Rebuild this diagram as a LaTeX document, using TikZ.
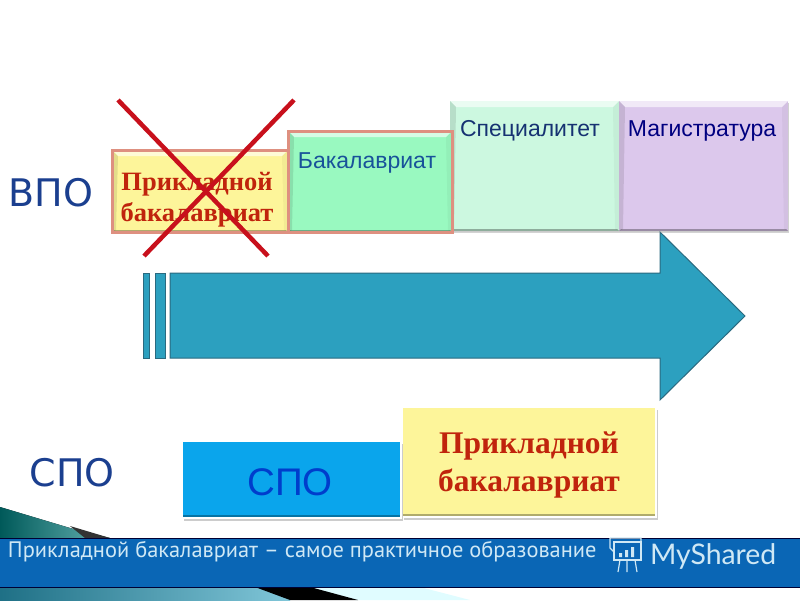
\documentclass[tikz,border=0pt]{standalone}
\usepackage{fontspec}
\setmainfont{Liberation Sans}
\newfontfamily\serifbold[BoldFont=Liberation Serif Bold]{Liberation Serif}
\newfontfamily\headfont{DejaVu Sans}
\newfontfamily\barfont{PT Sans}
\newfontfamily\logofont{Lato}
\usetikzlibrary{positioning,shadows}
\definecolor{arrowblue}{HTML}{2CA0BF}
\definecolor{arrowline}{HTML}{2A6A80}
\definecolor{paleyellow}{HTML}{FDF59A}
\definecolor{palegreen}{HTML}{99F9C0}
\definecolor{palemint}{HTML}{CCF8E0}
\definecolor{palelilac}{HTML}{DCC8EC}
\definecolor{skyblue}{HTML}{0AA5EC}
\definecolor{barblue}{HTML}{0A66B5}
\definecolor{crossred}{HTML}{C8101C}
\definecolor{redtext}{HTML}{C0240C}
\definecolor{headblue}{HTML}{1B3F8F}
\definecolor{barlight}{HTML}{CFE8F5}
\definecolor{glowred}{HTML}{DE9080}

\begin{document}
\begin{tikzpicture}[x=1pt, y=-1pt, inner sep=0pt, outer sep=0pt,
    bevel/.style = {path picture={
        \coordinate (nw) at (path picture bounding box.north west);
        \coordinate (ne) at (path picture bounding box.north east);
        \coordinate (sw) at (path picture bounding box.south west);
        \coordinate (se) at (path picture bounding box.south east);
        \fill[white, opacity=0.6] (nw) -- (ne) -- ([shift={(-6pt,-6pt)}]ne) -- ([shift={(6pt,-6pt)}]nw) -- cycle;
        \fill[black, opacity=0.10] (nw) -- (sw) -- ([shift={(4pt,2pt)}]sw) -- ([shift={(6pt,-6pt)}]nw) -- cycle;
        \fill[black, opacity=0.04] (ne) -- (se) -- ([shift={(-4pt,2pt)}]se) -- ([shift={(-6pt,-6pt)}]ne) -- cycle;
        \fill[black, opacity=0.3] (sw) -- (se) -- ([shift={(-2pt,2pt)}]se) -- ([shift={(2pt,2pt)}]sw) -- cycle;
    }},
    lowedge/.style = {path picture={
        \fill[black, opacity=0.3] (path picture bounding box.south west) rectangle ([yshift=3pt]path picture bounding box.south east);
    }},
    main/.style = {rectangle, anchor=north west, bevel, drop shadow={shadow xshift=1pt, shadow yshift=-1.5pt, opacity=0.35}},
    glow/.style = {main, draw=glowred, line width=3pt},
    plainbox/.style = {rectangle, anchor=north west, draw=white, line width=2.5pt, lowedge, drop shadow={shadow xshift=2pt, shadow yshift=-2.5pt, opacity=0.4}},
    title/.style = {font=\fontsize{23}{23}\selectfont},
    serif/.style 2 args = {font=\serifbold\bfseries\fontsize{#1}{#2}\selectfont, text=redtext, align=center},
    head/.style = {font=\headfont\fontsize{38}{38}\selectfont, text=headblue},
    cross/.style = {crossred, line width=4.5pt},
    stripe/.style = {fill=arrowblue, draw=arrowline, line width=1pt}]
    \useasboundingbox (0,0) rectangle (800,600);
    % Corner
    \fill[left color=teal!70!black, right color=teal!60!white] (0,507) -- (70,528) -- (110,538) -- (0,538) -- cycle;
    \fill[black!80] (70,526) -- (110,538) -- (85,538) -- cycle;
    \fill[left color=arrowblue!70!black, right color=arrowblue!60!white] (0,587) rectangle (290,600);
    \fill[blue!10!cyan!12] (300,587) -- (420,587) -- (470,600) -- (355,600) -- cycle;
    \fill[black] (255,587) -- (310,587) -- (358,600) -- (290,600) -- cycle;
    % Arrow
    \draw[stripe] (170,273) -- (660,273) -- (660,232) -- (745,316) -- (660,400) -- (660,358) -- (170,358) -- cycle;
    \draw[stripe] (143,273) rectangle (149,358);
    \draw[stripe] (155,273) rectangle (165,358);
    % Nodes
    \node[main, fill=palemint, minimum width=169pt, minimum height=130pt] (spec) at (450,101) {};
    \node[main, fill=palelilac, minimum width=169pt, minimum height=130pt] (mag) at (619,101) {};
    \node[glow, fill=paleyellow, minimum width=176pt, minimum height=82pt] (prikl) at (112,150) {};
    \node[glow, fill=palegreen, minimum width=164pt, minimum height=101pt] (bak) at (288,131) {};
    \node[plainbox, fill=paleyellow, minimum width=254pt, minimum height=110pt] (priklb) at (402,407) {};
    \node[plainbox, fill=skyblue, minimum width=219pt, minimum height=77pt] (spob) at (182,441) {};
    % Labels
    \node[serif={26.5}{31}] (prikltxt) at (197,200) {Прикладной\\бакалавриат};
    \node[title, text=headblue!90!cyan] (baktxt) at (367,163) {Бакалавриат};
    \node[title, text=headblue!80!black] (spectxt) at (530,131) {Специалитет};
    \node[title, text=blue!50!black] (magtxt) at (702,131) {Магистратура};
    \node[serif={31.5}{38}] (priklbtxt) at (529,465) {Прикладной\\бакалавриат};
    \node[font=\fontsize{38.5}{38.5}\selectfont, text=blue!70!cyan!80!black] (spotxt) at (290,482) {СПО};
    \node[head] (vpo) at (51,193) {ВПО};
    \node[head] (spo) at (72,473) {СПО};
    % Cross
    \coordinate (c1) at (118,100);
    \coordinate (c2) at (268,256);
    \coordinate (c3) at (294,100);
    \coordinate (c4) at (144,256);
    \draw[cross] (c1) -- (c2);
    \draw[cross] (c3) -- (c4);
    % Footer
    \node[rectangle, anchor=north west, fill=barblue, draw=black!80!blue, line width=1pt, minimum width=802pt, minimum height=49pt] (bar) at (-1,538) {};
    \node[anchor=west, font=\barfont\fontsize{22.4}{23}\selectfont, text=barlight] (bartxt) at (8,552) {Прикладной бакалавриат – самое практичное образование};
    \node[anchor=west, font=\logofont\fontsize{28.4}{29}\selectfont, text=barlight] (logotxt) at (650,556) {MyShared};
    % Logo icon
    \draw[barlight, line width=1.2pt] (614,542) rectangle (641,560);
    \draw[barlight, line width=1.2pt] (610,538) -- (641,538) -- (641,542) (610,538) -- (610,548) -- (614,552);
    \draw[barlight, line width=1.2pt] (620,560) -- (618,572) (635,560) -- (637,572) (627,560) -- (627,572);
    \fill[barlight] (619,553) rectangle (622,557) (625,550) rectangle (628,557) (631,547) rectangle (634,557);
\end{tikzpicture}
\end{document}
